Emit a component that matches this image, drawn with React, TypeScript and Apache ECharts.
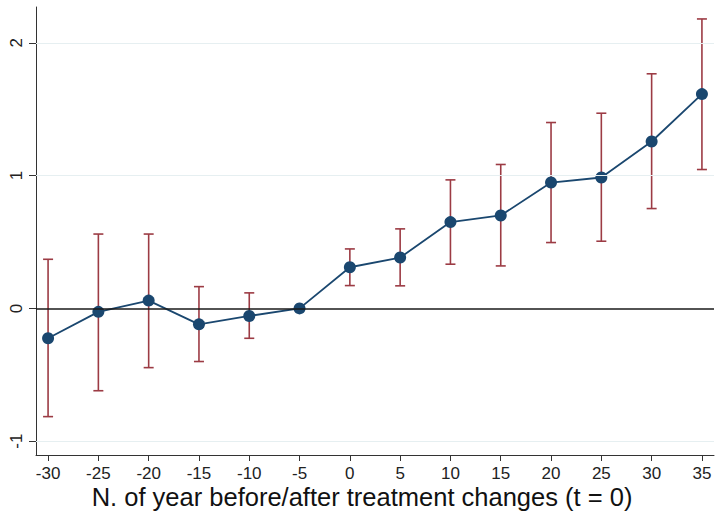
import React, { useEffect, useRef } from "react";
import * as echarts from "echarts";

const periods = [-30, -25, -20, -15, -10, -5, 0, 5, 10, 15, 20, 25, 30, 35];
const estimates = [-0.225, -0.026, 0.059, -0.12, -0.057, 0, 0.31, 0.383, 0.65, 0.7, 0.948, 0.986, 1.257, 1.614];
const upperCI = [0.37, 0.56, 0.56, 0.164, 0.117, 0, 0.448, 0.599, 0.968, 1.084, 1.4, 1.47, 1.767, 2.18];
const lowerCI = [-0.815, -0.62, -0.446, -0.4, -0.225, 0, 0.172, 0.17, 0.333, 0.32, 0.496, 0.506, 0.752, 1.046];
const xTicks = [-30, -25, -20, -15, -10, -5, 0, 5, 10, 15, 20, 25, 30, 35];
const yTicks = [-1, 0, 1, 2];
const gridValues = [-1, 1, 2];
const zeroLine = 0;
const xTitle = "N. of year before/after treatment changes (t = 0)";

const FONT = "'Liberation Sans', Arial, sans-serif";
const NAVY = "#1a476f";
const RED = "#9c3b44";

export default function App() {
  const ref = useRef<HTMLDivElement>(null);
  useEffect(() => {
    if (!ref.current) return;
    const chart = echarts.init(ref.current, null, { renderer: "svg" });
    const ciData = periods.map((p, i) => [p, lowerCI[i], upperCI[i]]);
    const lineData = periods.map((p, i) => [p, estimates[i]]);
    chart.setOption({
      animation: false,
      backgroundColor: "#ffffff",
      grid: { left: 36, right: 1, top: 7, bottom: 57, containLabel: false, outerBoundsMode: "none" },
      graphic: [
        {
          type: "text",
          x: 362,
          y: 497,
          silent: true,
          style: {
            text: xTitle,
            fontSize: 25.5,
            fontFamily: FONT,
            fill: "#111",
            align: "center",
            verticalAlign: "middle",
          },
        },
      ],
      xAxis: {
        type: "value",
        min: -31.2,
        max: 36.2,
        axisLine: { show: true, onZero: false, lineStyle: { color: "#333", width: 1 } },
        axisTick: { show: true, customValues: xTicks, length: 6, lineStyle: { color: "#333" } },
        axisLabel: {
          customValues: xTicks,
          margin: 10,
          fontSize: 17,
          fontFamily: FONT,
          color: "#222",
        },
        splitLine: { show: false },
      },
      yAxis: {
        type: "value",
        min: -1.104,
        max: 2.27,
        axisLine: { show: true, onZero: false, lineStyle: { color: "#333", width: 1 } },
        axisTick: { show: true, customValues: yTicks, length: 7, lineStyle: { color: "#333" } },
        axisLabel: {
          customValues: yTicks,
          rotate: 90,
          margin: 11,
          fontSize: 17,
          fontFamily: FONT,
          color: "#222",
        },
        splitLine: { show: false },
      },
      series: [
        {
          type: "line",
          data: [],
          z: 1,
          silent: true,
          markLine: {
            silent: true,
            symbol: "none",
            label: { show: false },
            animation: false,
            data: [
              ...gridValues.map((v) => ({ yAxis: v, lineStyle: { color: "#e6eff1", width: 1.2, type: "solid" } })),
              { yAxis: zeroLine, lineStyle: { color: "#1a1a1a", width: 1.6, type: "solid" } },
            ],
          },
        },
        {
          type: "custom",
          z: 2,
          data: ciData,
          renderItem: (params: any, api: any) => {
            const x = api.value(0);
            const lo = api.value(1);
            const hi = api.value(2);
            if (lo === hi) return null;
            const top = api.coord([x, hi]);
            const bot = api.coord([x, lo]);
            const style = { stroke: RED, lineWidth: 1.6 };
            const w = 5;
            return {
              type: "group",
              children: [
                { type: "line", shape: { x1: top[0], y1: top[1], x2: bot[0], y2: bot[1] }, style },
                { type: "line", shape: { x1: top[0] - w, y1: top[1], x2: top[0] + w, y2: top[1] }, style },
                { type: "line", shape: { x1: bot[0] - w, y1: bot[1], x2: bot[0] + w, y2: bot[1] }, style },
              ],
            };
          },
        },
        {
          type: "line",
          z: 3,
          data: lineData,
          symbol: "circle",
          symbolSize: 12,
          itemStyle: { color: NAVY },
          lineStyle: { color: NAVY, width: 1.8 },
        },
      ],
    });
    return () => chart.dispose();
  }, []);
  return (
    <div
      ref={ref}
      style={{ position: "fixed", left: 0, top: 0, width: 715, height: 512, background: "#fff" }}
    />
  );
}
